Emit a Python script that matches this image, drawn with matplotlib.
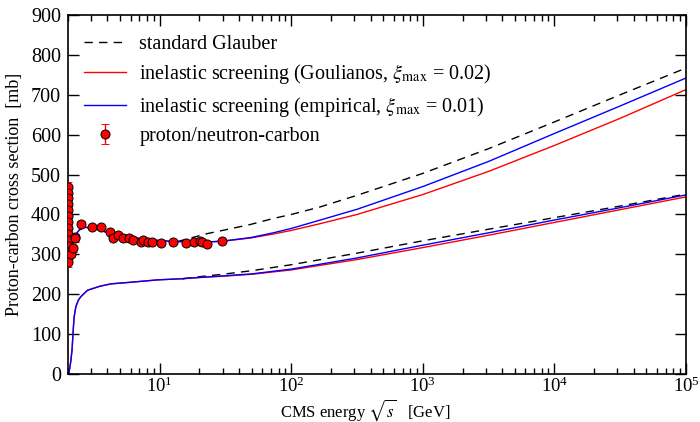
import matplotlib
matplotlib.use("Agg")
import matplotlib.pyplot as plt
from matplotlib.ticker import LogLocator, MultipleLocator, NullFormatter

plt.rcParams["font.family"] = ["Liberation Serif", "DejaVu Serif"]
plt.rcParams["mathtext.fontset"] = "stix"

# ---- total cross section branch (upper curves) ----
up_x_low = [2.0, 2.05, 2.1, 2.14, 2.2, 2.28, 2.36, 2.44, 2.67, 3.16, 4.25, 5.7, 7.6, 10.2, 13.6]
up_y_low = [290, 274, 290, 311, 330, 344, 355, 361, 368, 365, 352, 344, 338, 334, 332]

up_x_hi = [23, 30, 49, 73, 100, 166, 316, 1000, 3162, 1e4, 31623, 1e5]
glauber_up = [352, 360, 375, 390, 400, 419, 448, 503, 565, 632, 700, 767]
goul_up = [331, 333, 341, 351, 360, 377, 400, 450, 508, 573, 641, 713]
emp_up = [331, 333, 342, 354, 365, 386, 413, 470, 533, 603, 672, 742]

# ---- lower branch ----
lo_x_low = [2.03, 2.1, 2.15, 2.2, 2.23, 2.3, 2.4, 2.51, 2.82, 3.5, 4.25, 6, 9.6, 15]
lo_y_low = [0, 30, 60, 115, 143, 169, 185, 194, 210, 220, 226, 230, 236, 239]

lo_x_hi = [20, 30, 50, 100, 316, 1000, 3162, 1e4, 31623, 1e5]
glauber_lo = [244, 250, 259, 274, 303, 334, 363, 392, 421, 451]
goul_lo = [242, 245, 250, 261, 287, 317, 348, 380, 412, 444]
emp_lo = [242, 246, 251, 263, 291, 323, 354, 386, 417, 449]

# ---- proton/neutron-carbon data ----
data_x = [2.0, 2.0, 2.0, 2.0, 2.0, 2.0, 2.0, 2.0, 2.0, 2.0, 2.0, 2.0, 2.0, 2.0,
          2.12, 2.18, 2.25, 2.26, 2.51, 3.05, 3.56, 4.17, 4.37, 4.82, 5.21, 5.85,
          6.21, 7.18, 7.4, 8.15, 8.65, 10.2, 12.5, 15.7, 18.2, 20.2, 21.1, 23.0, 29.9]
data_y = [470, 455, 440, 425, 410, 395, 380, 365, 350, 335, 320, 305, 292, 280,
          302, 315, 344, 340, 377, 369, 369, 357, 340, 348, 340, 340,
          336, 332, 336, 330, 330, 329, 330, 329, 330, 333, 332, 327, 334]
data_err = [12, 12, 12, 12, 12, 12, 12, 12, 12, 12, 12, 12, 12, 12,
            8, 8, 8, 8, 6, 5, 5, 5, 5, 5, 5, 5,
            5, 5, 5, 5, 5, 5, 5, 5, 5, 5, 5, 5, 5]

fig = plt.figure(figsize=(7.0, 4.22), dpi=100)
ax = fig.add_axes([0.097, 0.1137, 0.883, 0.8508])

lw = 1.0
dash = (0, (6, 4.5))

# shared low-energy parts
ax.plot(up_x_low, up_y_low, color="red", lw=lw)
ax.plot(up_x_low, up_y_low, color="blue", lw=lw)
ax.plot(lo_x_low, lo_y_low, color="red", lw=lw)
ax.plot(lo_x_low, lo_y_low, color="blue", lw=lw)

# high-energy parts, starting from the last shared point
ax.plot([up_x_low[-1]] + up_x_hi, [up_y_low[-1]] + glauber_up, color="black", lw=lw, ls=dash,
        label="standard Glauber")
ax.plot([up_x_low[-1]] + up_x_hi, [up_y_low[-1]] + goul_up, color="red", lw=lw,
        label=r"inelastic screening (Goulianos, $\xi_{\rm max}$ = 0.02)")
ax.plot([up_x_low[-1]] + up_x_hi, [up_y_low[-1]] + emp_up, color="blue", lw=lw,
        label=r"inelastic screening (empirical, $\xi_{\rm max}$ = 0.01)")

ax.plot([lo_x_low[-1]] + lo_x_hi, [lo_y_low[-1]] + glauber_lo, color="black", lw=lw, ls=dash)
ax.plot([lo_x_low[-1]] + lo_x_hi, [lo_y_low[-1]] + goul_lo, color="red", lw=lw)
ax.plot([lo_x_low[-1]] + lo_x_hi, [lo_y_low[-1]] + emp_lo, color="blue", lw=lw)

ax.errorbar(data_x, data_y, yerr=data_err, fmt="o", ms=6.5, mfc="red", mec="black",
            mew=0.7, ecolor="red", elinewidth=1.0, capsize=3, capthick=1.0,
            label="proton/neutron-carbon", zorder=5)

ax.set_xscale("log")
ax.set_xlim(2, 1e5)
ax.set_ylim(0, 900)
ax.yaxis.set_major_locator(MultipleLocator(100))
ax.xaxis.set_major_locator(LogLocator(base=10, numticks=10))
ax.xaxis.set_minor_locator(LogLocator(base=10, subs=range(2, 10), numticks=50))
ax.xaxis.set_minor_formatter(NullFormatter())

ax.tick_params(which="both", direction="in", top=True, right=True, labelsize=14.5)
ax.tick_params(axis="x", which="major", labelsize=13.5, pad=2)
ax.tick_params(which="major", length=8, width=1.0)
ax.tick_params(axis="y", which="major", pad=5)
ax.tick_params(which="minor", length=4, width=1.0)
for s in ax.spines.values():
    s.set_linewidth(1.2)

ax.set_xlabel(r"CMS energy $\sqrt{s}$   [GeV]", fontsize=12)
ax.xaxis.set_label_coords(0.481, -0.064)
ax.set_ylabel("Proton-carbon cross section  [mb]", fontsize=13)
ax.yaxis.set_label_coords(-0.072, 0.5)

ax.legend(loc="upper left", frameon=False, fontsize=14.5, handlelength=2.1,
          labelspacing=0.42, borderaxespad=0.4, handletextpad=0.65,
          bbox_to_anchor=(0.0, 0.99))

fig.savefig("out.png", dpi=100)
